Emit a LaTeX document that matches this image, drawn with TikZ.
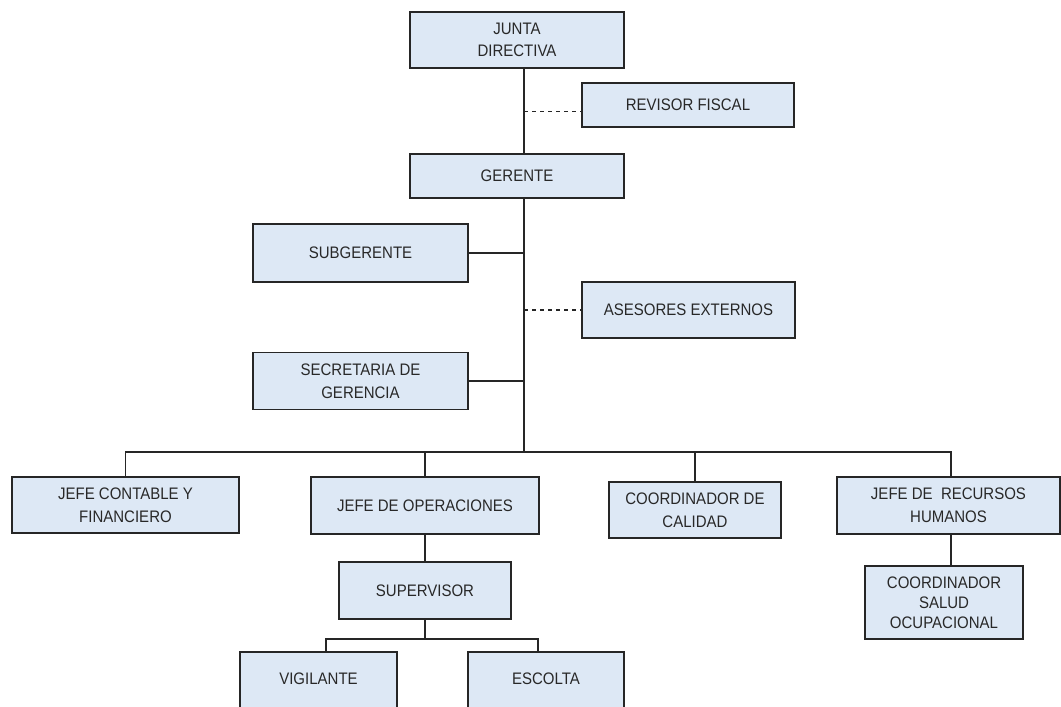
\documentclass[tikz,border=0pt]{standalone}
\usepackage{fontspec}
\setmainfont[FakeStretch=0.9]{Liberation Sans}
\usepackage{tikz}
\definecolor{cajaazul}{RGB}{221,232,245}
\definecolor{textogris}{RGB}{40,40,40}

\begin{document}
\begin{tikzpicture}[x=0.75pt,y=-0.75pt,
	cargo/.style={draw=black!85,line width=1.1pt,fill=cajaazul,text=textogris,align=center,inner sep=0pt,font=\fontsize{12.5}{17}\selectfont},
	linea/.style={line width=1.15pt,black!85}]
\useasboundingbox (0,0) rectangle (1061,707);
\node [cargo,minimum width=160.5pt,minimum height=42pt] (junta) at (517,40) {JUNTA\\DIRECTIVA};
\node [cargo,minimum width=159pt,minimum height=33pt] (revisor) at (688,105) {REVISOR FISCAL};
\node [cargo,minimum width=160.5pt,minimum height=33pt] (gerente) at (517,176) {GERENTE};
\node [cargo,minimum width=161.25pt,minimum height=43.5pt] (subgerente) at (360.5,253) {SUBGERENTE};
\node [cargo,minimum width=159.75pt,minimum height=42pt] (asesores) at (688.5,310) {ASESORES EXTERNOS};
\node [cargo,minimum width=161.25pt,minimum height=42.75pt] (secretaria) at (360.5,381) {SECRETARIA DE\\GERENCIA};
\node [cargo,minimum width=170.25pt,minimum height=42pt] (contable) at (125.5,505) {JEFE CONTABLE Y\\FINANCIERO};
\node [cargo,minimum width=171pt,minimum height=42.75pt] (operaciones) at (425,505.5) {JEFE DE OPERACIONES};
\node [cargo,minimum width=129pt,minimum height=42pt] (calidad) at (695,510) {COORDINADOR DE\\CALIDAD};
\node [cargo,minimum width=167.25pt,minimum height=42.75pt] (rrhh) at (948.5,505.5) {JEFE DE \ RECURSOS\\HUMANOS};
\node [cargo,minimum width=118.5pt,minimum height=54.75pt,font=\fontsize{12.5}{15}\selectfont] (salud) at (944,602.5) {COORDINADOR\\SALUD\\OCUPACIONAL};
\node [cargo,minimum width=129pt,minimum height=42.75pt] (supervisor) at (425,590.5) {SUPERVISOR};
\node [cargo,minimum width=117.75pt,minimum height=52.5pt,text depth=12pt] (vigilante) at (318.5,687) {VIGILANTE};
\node [cargo,minimum width=117pt,minimum height=52.5pt,text depth=12pt] (escolta) at (546,687) {ESCOLTA};

% lineas de mando
\coordinate (eje) at (524,452);
\coordinate (ejesup) at (425,639);
\draw[linea] (junta.south -| eje) -- (gerente.north -| eje);
\draw[linea,dashed] ([yshift=-5pt]revisor.west -| eje) -- ([yshift=-5pt]revisor.west);
\draw[linea] (gerente.south -| eje) -- (eje);
\draw[linea] (subgerente.east) -- (subgerente.east -| eje);
\draw[linea,dashed] (asesores.west -| eje) -- (asesores.west);
\draw[linea] (secretaria.east) -- (secretaria.east -| eje);
\draw[linea] (contable.north) |- (eje) -| ([xshift=2pt]rrhh.north);
\draw[linea] (operaciones.north) -- (operaciones.north |- eje);
\draw[linea] (calidad.north) -- (calidad.north |- eje);
\draw[linea] (operaciones.south) -- (supervisor.north);
\draw[linea] ([xshift=2pt]rrhh.south) -- ([xshift=2pt]rrhh.south |- salud.north);
\draw[linea] (supervisor.south) -- (ejesup);
\draw[linea] ([xshift=5.5pt]vigilante.north) |- (ejesup) -| ([xshift=-6pt]escolta.north);
\end{tikzpicture}
\end{document}
